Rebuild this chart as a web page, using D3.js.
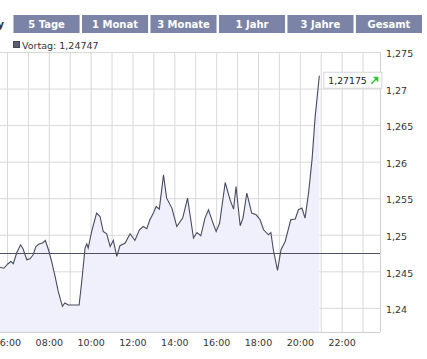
<!DOCTYPE html>
<html>
<head>
<meta charset="utf-8">
<script src="https://cdn.jsdelivr.net/npm/d3@7"></script>
<style>
  html, body { margin: 0; padding: 0; background: #fff; }
  svg { display: block; }
</style>
</head>
<body>
<div id="chart"></div>
<script>
const tabs = ["5 Tage", "1 Monat", "3 Monate", "1 Jahr", "3 Jahre", "Gesamt"];
const prevClose = 1.24747;
const lastValue = 1.27175;
const yTicks = [1.24, 1.245, 1.25, 1.255, 1.26, 1.265, 1.27, 1.275];
const xTickHours = [6, 8, 10, 12, 14, 16, 18, 20, 22];

const times = ["05:40","05:51","06:03","06:11","06:18","06:28","06:39","06:46","06:57","07:06",
  "07:15","07:23","07:32","07:42","07:50","07:59","08:08","08:18","08:27","08:39",
  "08:46","08:56","09:27","09:34","09:44","09:49","09:53","10:03","10:17","10:27",
  "10:36","10:46","10:56","11:05","11:15","11:24","11:39","11:53","12:07","12:20",
  "12:31","12:41","12:50","13:00","13:08","13:17","13:29","13:38","13:53","14:07",
  "14:24","14:38","14:55","15:05","15:16","15:28","15:38","15:51","16:00","16:10",
  "16:26","16:40","16:50","16:57","17:09","17:17","17:28","17:42","17:55","18:06",
  "18:16","18:30","18:37","18:44","18:56","19:06","19:18","19:34","19:47","19:56",
  "20:06","20:15","20:25","20:35","20:44","20:56"];
const values = [1.24556,1.24542,1.24604,1.24635,1.24604,1.24754,1.24863,1.24809,1.24658,1.24672,
  1.24727,1.24840,1.24873,1.24887,1.24922,1.24795,1.24635,1.24430,1.24225,1.24021,
  1.24067,1.24040,1.24040,1.24340,1.24818,1.24877,1.24818,1.25045,1.25296,1.25250,
  1.25045,1.25014,1.24840,1.24922,1.24704,1.24850,1.24887,1.25014,1.24922,1.25068,
  1.25113,1.25082,1.25205,1.25296,1.25387,1.25351,1.25820,1.25501,1.25365,1.25113,
  1.25228,1.25501,1.24955,1.25031,1.24986,1.25228,1.25342,1.25160,1.25045,1.25160,
  1.25715,1.25478,1.25351,1.25660,1.25123,1.25228,1.25570,1.25296,1.25273,1.25205,
  1.25068,1.25000,1.25031,1.24795,1.24512,1.24795,1.24908,1.25205,1.25215,1.25342,
  1.25365,1.25228,1.25570,1.26025,1.26616,1.27175];

const w = 427, h = 359;
const plotLeft = 0, plotRight = 380, plotTop = 52, plotBottom = 332;

const parseTime = d3.timeParse("%H:%M");
const data = times.map((t, i) => ({ t: parseTime(t), v: values[i] }));
const hourDate = hr => parseTime(String(hr).padStart(2, "0") + ":00");

const xScale = d3.scaleTime()
  .domain([parseTime("05:40"), parseTime("23:50")])
  .range([plotLeft, plotRight]);
const yScale = d3.scaleLinear()
  .domain([1.2367, 1.275])
  .range([plotBottom, plotTop]);

// german decimal comma, trailing zero trimmed
const fmtTick = d => d.toFixed(3).replace(/0$/, "").replace(".", ",");
const fmtFull = d => d.toFixed(5).replace(".", ",");

const svg = d3.select("#chart").append("svg")
  .attr("width", w).attr("height", h)
  .style("font-family", "'DejaVu Sans', sans-serif");

// tabs (first one is the selected one, cut off at the left edge)
const tabG = svg.append("g");
tabG.append("rect").attr("x", -70).attr("y", 15).attr("width", 82).attr("height", 18).attr("fill", "#fff");
tabG.append("text").attr("x", 4).attr("y", 28).attr("text-anchor", "end")
  .attr("font-size", 10).attr("font-weight", "bold").attr("fill", "#333").text("Intraday");
const tabX = d3.scaleBand().domain(tabs).range([13.5, 422]).paddingInner(0.035);
tabs.forEach(t => {
  tabG.append("rect").attr("x", tabX(t)).attr("y", 15)
    .attr("width", tabX.bandwidth()).attr("height", 18).attr("fill", "#7b84a6");
  tabG.append("text").attr("x", tabX(t) + tabX.bandwidth() / 2).attr("y", 28)
    .attr("text-anchor", "middle").attr("font-size", 10).attr("font-weight", "bold")
    .attr("fill", "#fff").text(t);
});

// legend
svg.append("rect").attr("x", 13.5).attr("y", 41.5).attr("width", 6).attr("height", 6)
  .attr("fill", "#5b5f70").attr("stroke", "#44485a");
svg.append("text").attr("x", 22).attr("y", 49).attr("font-size", 9.5).attr("fill", "#333")
  .text("Vortag: " + fmtFull(prevClose));

// grid
const gx = svg.append("g").attr("transform", `translate(0,${plotBottom})`)
  .call(d3.axisBottom(xScale).tickValues(d3.range(6, 24).map(hourDate))
    .tickSize(-(plotBottom - plotTop)).tickFormat(""));
gx.select(".domain").remove();
gx.selectAll("line").attr("stroke", "#d9d9d9");

const gy = svg.append("g").attr("transform", `translate(${plotRight},0)`)
  .call(d3.axisLeft(yScale).tickValues(yTicks).tickSize(plotRight - plotLeft).tickFormat(""));
gy.select(".domain").remove();
gy.selectAll("line").attr("stroke", "#d9d9d9");

// area
svg.append("path").datum(data)
  .attr("fill", "#eff0fb")
  .attr("d", d3.area().x(d => xScale(d.t)).y0(plotBottom).y1(d => yScale(d.v)));

// frame
svg.append("line").attr("x1", plotLeft).attr("x2", plotRight).attr("y1", plotBottom + 0.5).attr("y2", plotBottom + 0.5).attr("stroke", "#cfcfcf");
svg.append("line").attr("x1", plotRight + 0.5).attr("x2", plotRight + 0.5).attr("y1", plotTop).attr("y2", plotBottom).attr("stroke", "#cfcfcf");

// previous close line
const yPrev = Math.round(yScale(prevClose)) + 0.5;
svg.append("line").attr("x1", plotLeft).attr("x2", plotRight)
  .attr("y1", yPrev).attr("y2", yPrev)
  .attr("stroke", "#4d5164").attr("stroke-width", 1);

// price line
svg.append("path").datum(data)
  .attr("fill", "none").attr("stroke", "#474b5f").attr("stroke-width", 1.1)
  .attr("d", d3.line().x(d => xScale(d.t)).y(d => yScale(d.v)));

// y labels
const ya = svg.append("g").attr("transform", `translate(${plotRight + 3},0)`)
  .call(d3.axisRight(yScale).tickValues(yTicks).tickSize(0).tickFormat(fmtTick));
ya.select(".domain").remove();
ya.selectAll("text").attr("font-size", 9.5).attr("fill", "#333")
  .attr("font-family", "'DejaVu Sans', sans-serif").attr("dy", "0.5em");

// x labels
const xa = svg.append("g").attr("transform", `translate(0,${plotBottom + 4})`)
  .call(d3.axisBottom(xScale).tickValues(xTickHours.map(hourDate)).tickSize(0)
    .tickFormat(d3.timeFormat("%H:%M")));
xa.select(".domain").remove();
xa.selectAll("text").attr("font-size", 9.5).attr("fill", "#333")
  .attr("font-family", "'DejaVu Sans', sans-serif");

// last value box with green up arrow
const last = data[data.length - 1];
const bx = xScale(last.t) + 4, by = yScale(last.v) - 4;
svg.append("rect").attr("x", bx + 0.5).attr("y", by + 0.5).attr("width", 58).attr("height", 16)
  .attr("fill", "#fff").attr("stroke", "#d6d6d6");
svg.append("text").attr("x", bx + 5).attr("y", by + 12).attr("font-size", 9.3).attr("fill", "#222")
  .text(fmtFull(lastValue));
const ax = bx + 48, ay = by + 12;
svg.append("line").attr("x1", ax).attr("y1", ay).attr("x2", ax + 6).attr("y2", ay - 6)
  .attr("stroke", "#2ec42e").attr("stroke-width", 1.5);
svg.append("path").attr("d", `M${ax + 7},${ay - 7} L${ax + 1.5},${ay - 7} L${ax + 7},${ay - 1.5} Z`)
  .attr("fill", "#2ec42e");
</script>
</body>
</html>
